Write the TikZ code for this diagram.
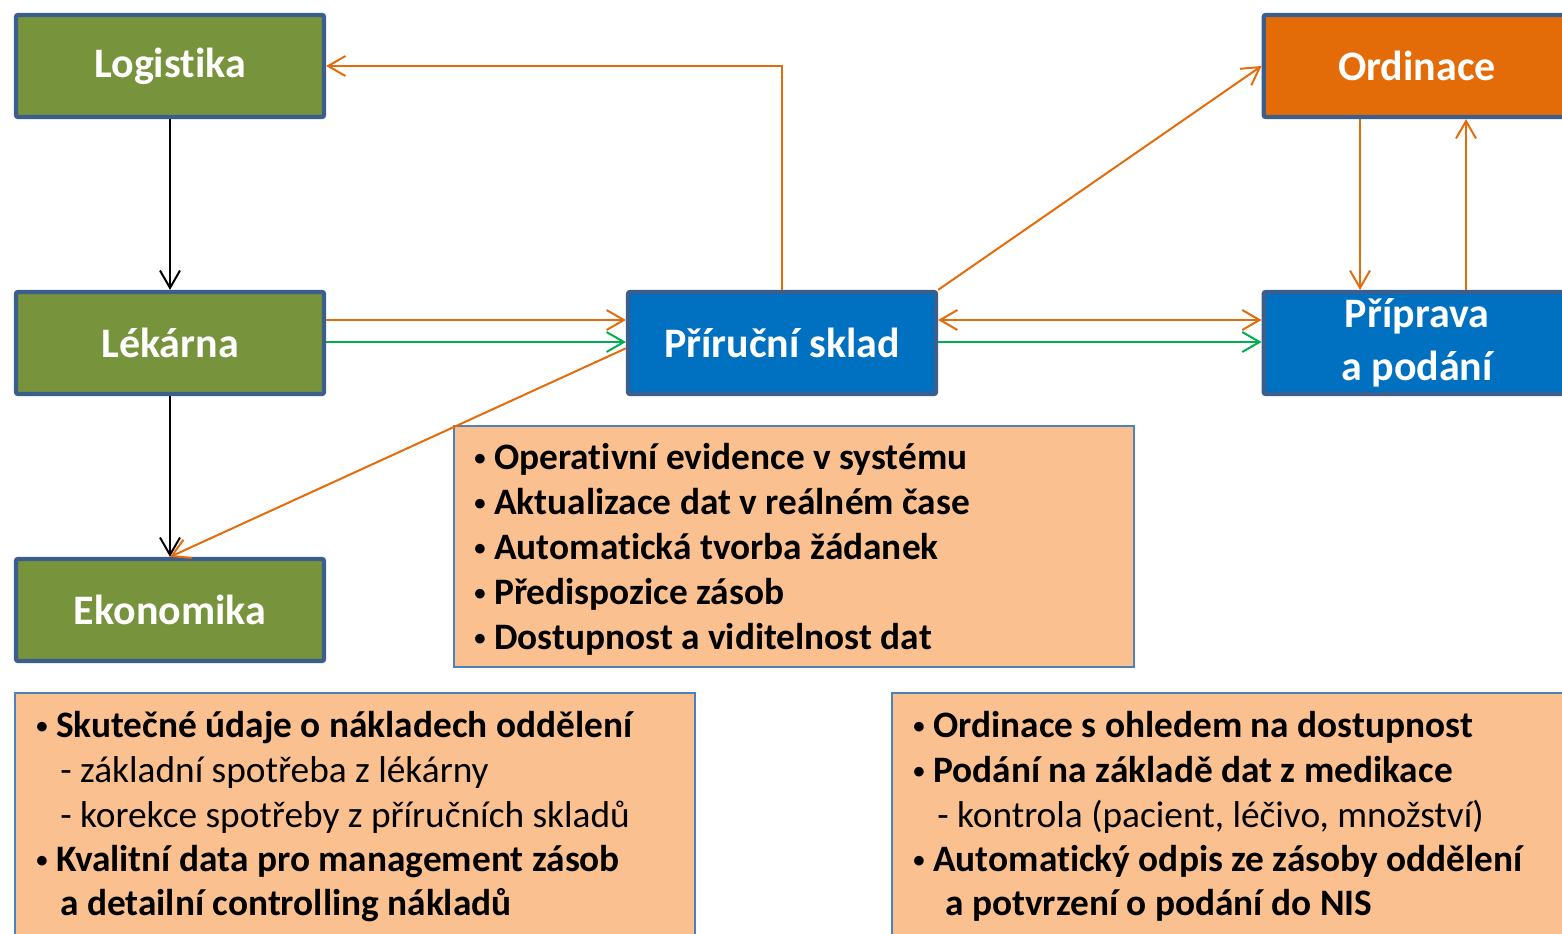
\documentclass[tikz,border=0pt]{standalone}
\usepackage{fontspec}
\setmainfont{Carlito}[Ligatures=NoCommon]
\usetikzlibrary{arrows.meta}
\definecolor{olivegr}{HTML}{77933C}
\definecolor{blueb}{HTML}{0070C0}
\definecolor{orangeb}{HTML}{E36C09}
\definecolor{edgeb}{HTML}{3B5E8C}
\definecolor{peach}{HTML}{FAC090}
\definecolor{thinb}{HTML}{4F81BD}
\definecolor{arrO}{HTML}{E46C0A}
\definecolor{arrG}{HTML}{00B050}
\newcommand\smbul{\makebox[16.5pt][l]{\hspace{1.5pt}\raisebox{2.6pt}{\fontsize{17}{17}\selectfont •}}}
\begin{document}
\begin{tikzpicture}[x=0.75pt,y=-0.75pt,
  mainbox/.style={draw=edgeb, line width=3.2pt, rounded corners=1.5pt, text=white,
    font=\fontsize{31.5}{39}\selectfont\bfseries, minimum width=231pt, minimum height=76.5pt,
    inner sep=0pt, align=center},
  gbox/.style={mainbox, fill=olivegr},
  bbox/.style={mainbox, fill=blueb},
  obox/.style={mainbox, fill=orangeb},
  pbox/.style={draw=thinb, line width=1.1pt, fill=peach},
  bt/.style={anchor=base west, inner sep=0pt, font=\fontsize{28}{34}\selectfont\bfseries},
  nt/.style={anchor=base west, inner sep=0pt, font=\fontsize{28}{34}\selectfont},
  conn/.style={line width=1.5pt, -{Straight Barb[length=13pt,width=15pt,line width=1.5pt]}},
  oc/.style={conn, draw=arrO},
  gc/.style={conn, draw=arrG},
  kc/.style={conn, draw=black}
]
\useasboundingbox (0,0) rectangle (1562,934);
\clip (0,0) rectangle (1562,934);

% main boxes
\node[gbox] (log) at (170,66) {\raisebox{-2pt}{Logistika}};
\node[gbox] (lek) at (170,343) {\raisebox{-2pt}{Lékárna}};
\node[gbox] (eko) at (170,610) {\raisebox{-2pt}{Ekonomika}};
\node[bbox] (pri) at (782,343) {\raisebox{-2pt}{Příruční sklad}};
\node[obox, minimum width=230pt] (ord) at (1417,66) {\raisebox{-2pt}{Ordinace}};
\node[bbox, minimum width=230pt] (pre) at (1417,343) {\raisebox{-2pt}{Příprava}\\[1pt]\raisebox{-2pt}{a podání}};

% text boxes
\node[pbox, minimum width=510pt, minimum height=180.75pt, inner sep=0pt] (mid) at (794,546.5) {};
\draw[pbox] (15,693) rectangle (695,970);
\draw[pbox] (892,693) rectangle (1590,970);

% middle text
\node[bt] (m1) at (472,469) {\smbul Operativní evidence v systému};
\node[bt] (m2) at (472,514) {\smbul Aktualizace dat v reálném čase};
\node[bt] (m3) at (472,559) {\smbul Automatická tvorba žádanek};
\node[bt] (m4) at (472,604) {\smbul Předispozice zásob};
\node[bt] (m5) at (472,649) {\smbul Dostupnost a viditelnost dat};

% bottom-left text
\node[bt] (l1) at (34,737) {\smbul Skutečné údaje o nákladech oddělení};
\node[nt] (l2) at (60,782) {- základní spotřeba z lékárny};
\node[nt] (l3) at (60,827) {- korekce spotřeby z příručních skladů};
\node[bt] (l4) at (34,871) {\smbul Kvalitní data pro management zásob};
\node[bt] (l5) at (60,915) {a detailní controlling nákladů};

% bottom-right text
\node[bt] (r1) at (911,737) {\smbul Ordinace s ohledem na dostupnost};
\node[bt] (r2) at (911,782) {\smbul Podání na základě dat z medikace};
\node[nt] (r3) at (937,827) {- kontrola (pacient, léčivo, množství)};
\node[bt] (r4) at (911,871) {\smbul Automatický odpis ze zásoby oddělení};
\node[bt] (r5) at (945,915) {a potvrzení o podání do NIS};

% connectors
\draw[kc] (log.south) -- (lek.north);
\draw[kc] (lek.south) -- (eko.north);
\draw[oc] (pri.north) |- (log.east);
\draw[oc] ([yshift=17.25pt]lek.east) -- ([yshift=17.25pt]pri.west);
\draw[gc] ([yshift=0.75pt]lek.east) -- ([yshift=0.75pt]pri.west);
\draw[oc] ([yshift=-4pt]pri.west) -- (eko.north);
\draw[oc] (pri.north east) -- (ord.west);
\draw[oc, {Straight Barb[length=13pt,width=15pt,line width=1.5pt]}-{Straight Barb[length=13pt,width=15pt,line width=1.5pt]}] ([yshift=17.25pt]pri.east) -- ([yshift=17.25pt]pre.west);
\draw[gc] ([yshift=0.75pt]pri.east) -- ([yshift=0.75pt]pre.west);
\draw[oc] ([xshift=-42.75pt]ord.south) -- ([xshift=-42.75pt]pre.north);
\draw[oc] ([xshift=36.75pt]pre.north) -- ([xshift=36.75pt]ord.south);
\end{tikzpicture}
\end{document}
